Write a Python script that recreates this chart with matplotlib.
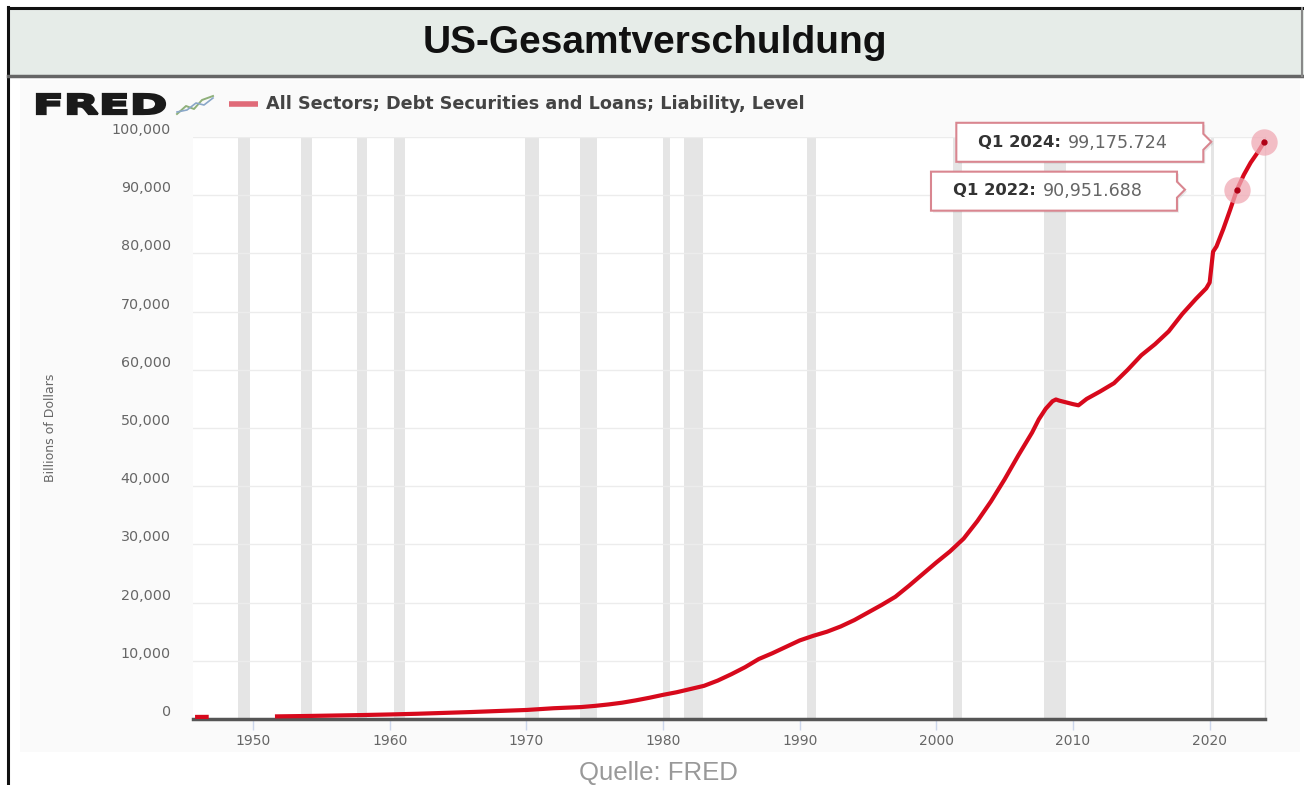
import numpy as np
import matplotlib
matplotlib.use("Agg")
from matplotlib import pyplot as plt
from matplotlib import transforms as mtransforms
from matplotlib.patches import Rectangle, Polygon, PathPatch
from matplotlib.lines import Line2D
from matplotlib.textpath import TextPath
from matplotlib.font_manager import FontProperties

# values (billions of dollars)
early_years = [1945.75, 1946.0, 1946.25, 1946.5, 1946.75]
early_debt = [355, 357, 359, 361, 364]

years = [1951.75, 1954, 1956, 1958, 1960, 1962, 1964, 1966, 1968, 1970,
         1972, 1974, 1975, 1976, 1977, 1978, 1979, 1980, 1981, 1982,
         1983, 1984, 1985, 1986, 1987, 1988, 1989, 1990, 1991, 1992,
         1993, 1994, 1995, 1996, 1997, 1998, 1999, 2000, 2001, 2002,
         2003, 2004, 2005, 2006, 2007, 2007.5, 2008, 2008.5, 2008.75, 2009,
         2009.5, 2010, 2010.4, 2011, 2012, 2013, 2014, 2015, 2016, 2017,
         2018, 2019, 2019.75, 2020.0, 2020.25, 2020.5, 2021, 2021.5, 2022, 2022.5,
         2023, 2023.5, 2024]
debt = [450, 520, 600, 680, 780, 900, 1050, 1200, 1380, 1550,
        1850, 2050, 2250, 2500, 2800, 3200, 3650, 4150, 4600, 5150,
        5700, 6600, 7700, 8900, 10300, 11300, 12400, 13500, 14300, 15000,
        15900, 17000, 18300, 19600, 21000, 22900, 24900, 26900, 28800, 31000,
        34000, 37400, 41200, 45300, 49200, 51500, 53300, 54600, 54900, 54700,
        54400, 54100, 53900, 55000, 56300, 57700, 60000, 62500, 64400, 66600,
        69600, 72200, 74000, 75000, 80300, 81200, 84200, 87500, 90951.688, 93500,
        95600, 97300, 99175.724]

recessions = [(1948.9, 1949.8), (1953.5, 1954.3), (1957.6, 1958.3), (1960.3, 1961.1),
              (1969.9, 1970.9), (1973.9, 1975.2), (1980.0, 1980.5), (1981.5, 1982.9),
              (1990.5, 1991.2), (2001.2, 2001.9), (2007.9, 2009.5), (2020.1, 2020.3)]

highlights = [("Q1 2024", 2024.0, 99175.724, "99,175.724"),
              ("Q1 2022", 2022.0, 90951.688, "90,951.688")]

series_name = "All Sectors; Debt Securities and Loans; Liability, Level"

W, H = 1304, 785
fig = plt.figure(figsize=(W / 100, H / 100), dpi=100)
fig.patch.set_facecolor("white")


def px(x, y):
    """pixel (top-left origin) -> figure fraction"""
    return x / W, 1 - y / H


# frame and title banner
fig.add_artist(Rectangle(px(20, 752), 1280 / W, 672 / H, transform=fig.transFigure,
                         facecolor="#fafafa", edgecolor="none", zorder=0))
fig.add_artist(Rectangle(px(8, 76), 1300 / W, 68 / H, transform=fig.transFigure,
                         facecolor="#e6ece8", edgecolor="none", zorder=1))
fig.add_artist(Line2D([8 / W, 8 / W], [1 - 7 / H, 0], transform=fig.transFigure,
                      color="#111111", lw=2.2, zorder=3))
fig.add_artist(Line2D([8 / W, 1 - 1 / W], [1 - 8 / H, 1 - 8 / H], transform=fig.transFigure,
                      color="#111111", lw=2.2, zorder=3))
fig.add_artist(Line2D([8 / W, 1 - 1 / W], [1 - 76 / H, 1 - 76 / H], transform=fig.transFigure,
                      color="#666666", lw=2.5, zorder=3))
fig.add_artist(Line2D([1 - 2 / W, 1 - 2 / W], [1 - 8 / H, 1 - 76 / H], transform=fig.transFigure,
                      color="#888888", lw=1.5, zorder=3))
fig.text(655 / W, 1 - 43 / H, "US-Gesamtverschuldung", ha="center", va="center",
         fontsize=28, fontweight="bold", family="Liberation Sans", color="#111111")

# FRED logo stretched to its box
tp = TextPath((0, 0), "FRED", size=1, prop=FontProperties(family="DejaVu Sans", weight="bold"))
bb = tp.get_extents()
logo_tr = (mtransforms.Affine2D().translate(-bb.x0, -bb.y0)
           .scale(128 / W / bb.width, 20 / H / bb.height)
           .translate(37 / W, 1 - 114 / H) + fig.transFigure)
fig.add_artist(PathPatch(tp, transform=logo_tr, facecolor="#1a1a1a", edgecolor="#1a1a1a", lw=1.6))
fig.add_artist(Line2D(np.array([177, 186, 194, 202, 213]) / W,
                      1 - np.array([114, 106, 109, 100, 96]) / H,
                      transform=fig.transFigure, color="#8fb07a", lw=1.4))
fig.add_artist(Line2D(np.array([177, 187, 196, 204, 213]) / W,
                      1 - np.array([112, 110, 103, 105, 98]) / H,
                      transform=fig.transFigure, color="#8aa7c8", lw=1.2))

# legend
fig.add_artist(Line2D([229 / W, 258 / W], [1 - 104 / H, 1 - 104 / H], transform=fig.transFigure,
                      color="#e06a78", lw=4, solid_capstyle="butt"))
fig.text(266 / W, 1 - 104 / H, series_name, ha="left", va="center",
         fontsize=12.7, fontweight="bold", color="#444444")

# main axes
ax = fig.add_axes([193 / W, 1 - 719 / H, 1072 / W, 582 / H])
ax.set_facecolor("white")
ax.set_xlim(1945.6, 2024.05)
ax.set_ylim(0, 100000)

for start, end in recessions:
    ax.axvspan(start, end, color="#e5e5e5", lw=0, zorder=0)

ax.set_yticks(np.arange(0, 100001, 10000))
ax.grid(axis="y", color="#ececec", lw=1, zorder=0.5)
ax.set_axisbelow(True)
ax.yaxis.set_major_formatter(matplotlib.ticker.FuncFormatter(lambda v, p: f"{v:,.0f}"))
ax.tick_params(axis="y", length=0, pad=16, labelsize=10.3, labelcolor="#666666")
for lbl in ax.get_yticklabels():
    lbl.set_verticalalignment("bottom")

ax.set_xticks(np.arange(1950, 2021, 10))
ax.tick_params(axis="x", length=8, width=1, color="#ccd6eb", pad=3,
               labelsize=10, labelcolor="#666666")

for side in ["left", "top"]:
    ax.spines[side].set_visible(False)
ax.spines["right"].set_color("#e0e0e0")
ax.spines["right"].set_linewidth(1)
ax.spines["bottom"].set_color("#555555")
ax.spines["bottom"].set_linewidth(2.5)

ax.set_ylabel("Billions of Dollars", family=["Liberation Sans Narrow", "DejaVu Sans"],
              fontsize=9, color="#666666", labelpad=0)
ax.yaxis.set_label_coords(-(193 - 57) / 1072, (719 - 428) / 582)

line_color = "#d7091c"
ax.plot(early_years, early_debt, color=line_color, lw=3, solid_capstyle="butt", zorder=3)
ax.plot(years, debt, color=line_color, lw=3, solid_joinstyle="round", zorder=3)

# tooltips
box_offsets = [(-308, -61, 19, -20), (-306, -60, 18, -21)]
for (label, x, y, val), (x0, x1, top, bot) in zip(highlights, box_offsets):
    ax.plot([x], [y], "o", ms=19, color="#f0a9b4", alpha=0.75, mec="none", zorder=4,
            clip_on=False)
    ax.plot([x], [y], "o", ms=3.5, color="#b00015", zorder=5, clip_on=False)
    tr = mtransforms.Affine2D() + mtransforms.ScaledTranslation(x, y, ax.transData)
    pts = [(x0, top), (x1, top), (x1, 8), (x1 + 8, 0), (x1, -8), (x1, bot), (x0, bot)]
    shadow = Polygon([(a + 2, b - 2) for a, b in pts], closed=True, transform=tr,
                     facecolor="#000000", alpha=0.08, edgecolor="none", clip_on=False, zorder=6)
    box = Polygon(pts, closed=True, transform=tr, facecolor="white",
                  edgecolor="#d98690", lw=1.5, clip_on=False, zorder=7)
    ax.add_patch(shadow)
    ax.add_patch(box)
    ax.annotate(label + ":", (x, y), xytext=(x0 + 22, -1), textcoords="offset pixels",
                ha="left", va="center", fontsize=11.8, fontweight="bold", color="#333333",
                zorder=8, annotation_clip=False)
    ax.annotate(val, (x, y), xytext=(x0 + 112, -1), textcoords="offset pixels",
                ha="left", va="center", fontsize=12.6, color="#666666",
                zorder=8, annotation_clip=False)

fig.text(658 / W, 1 - 773 / H, "Quelle: FRED", ha="center", va="center",
         fontsize=18.5, family="Liberation Sans", color="#999999")

fig.savefig("out.png", dpi=100)
